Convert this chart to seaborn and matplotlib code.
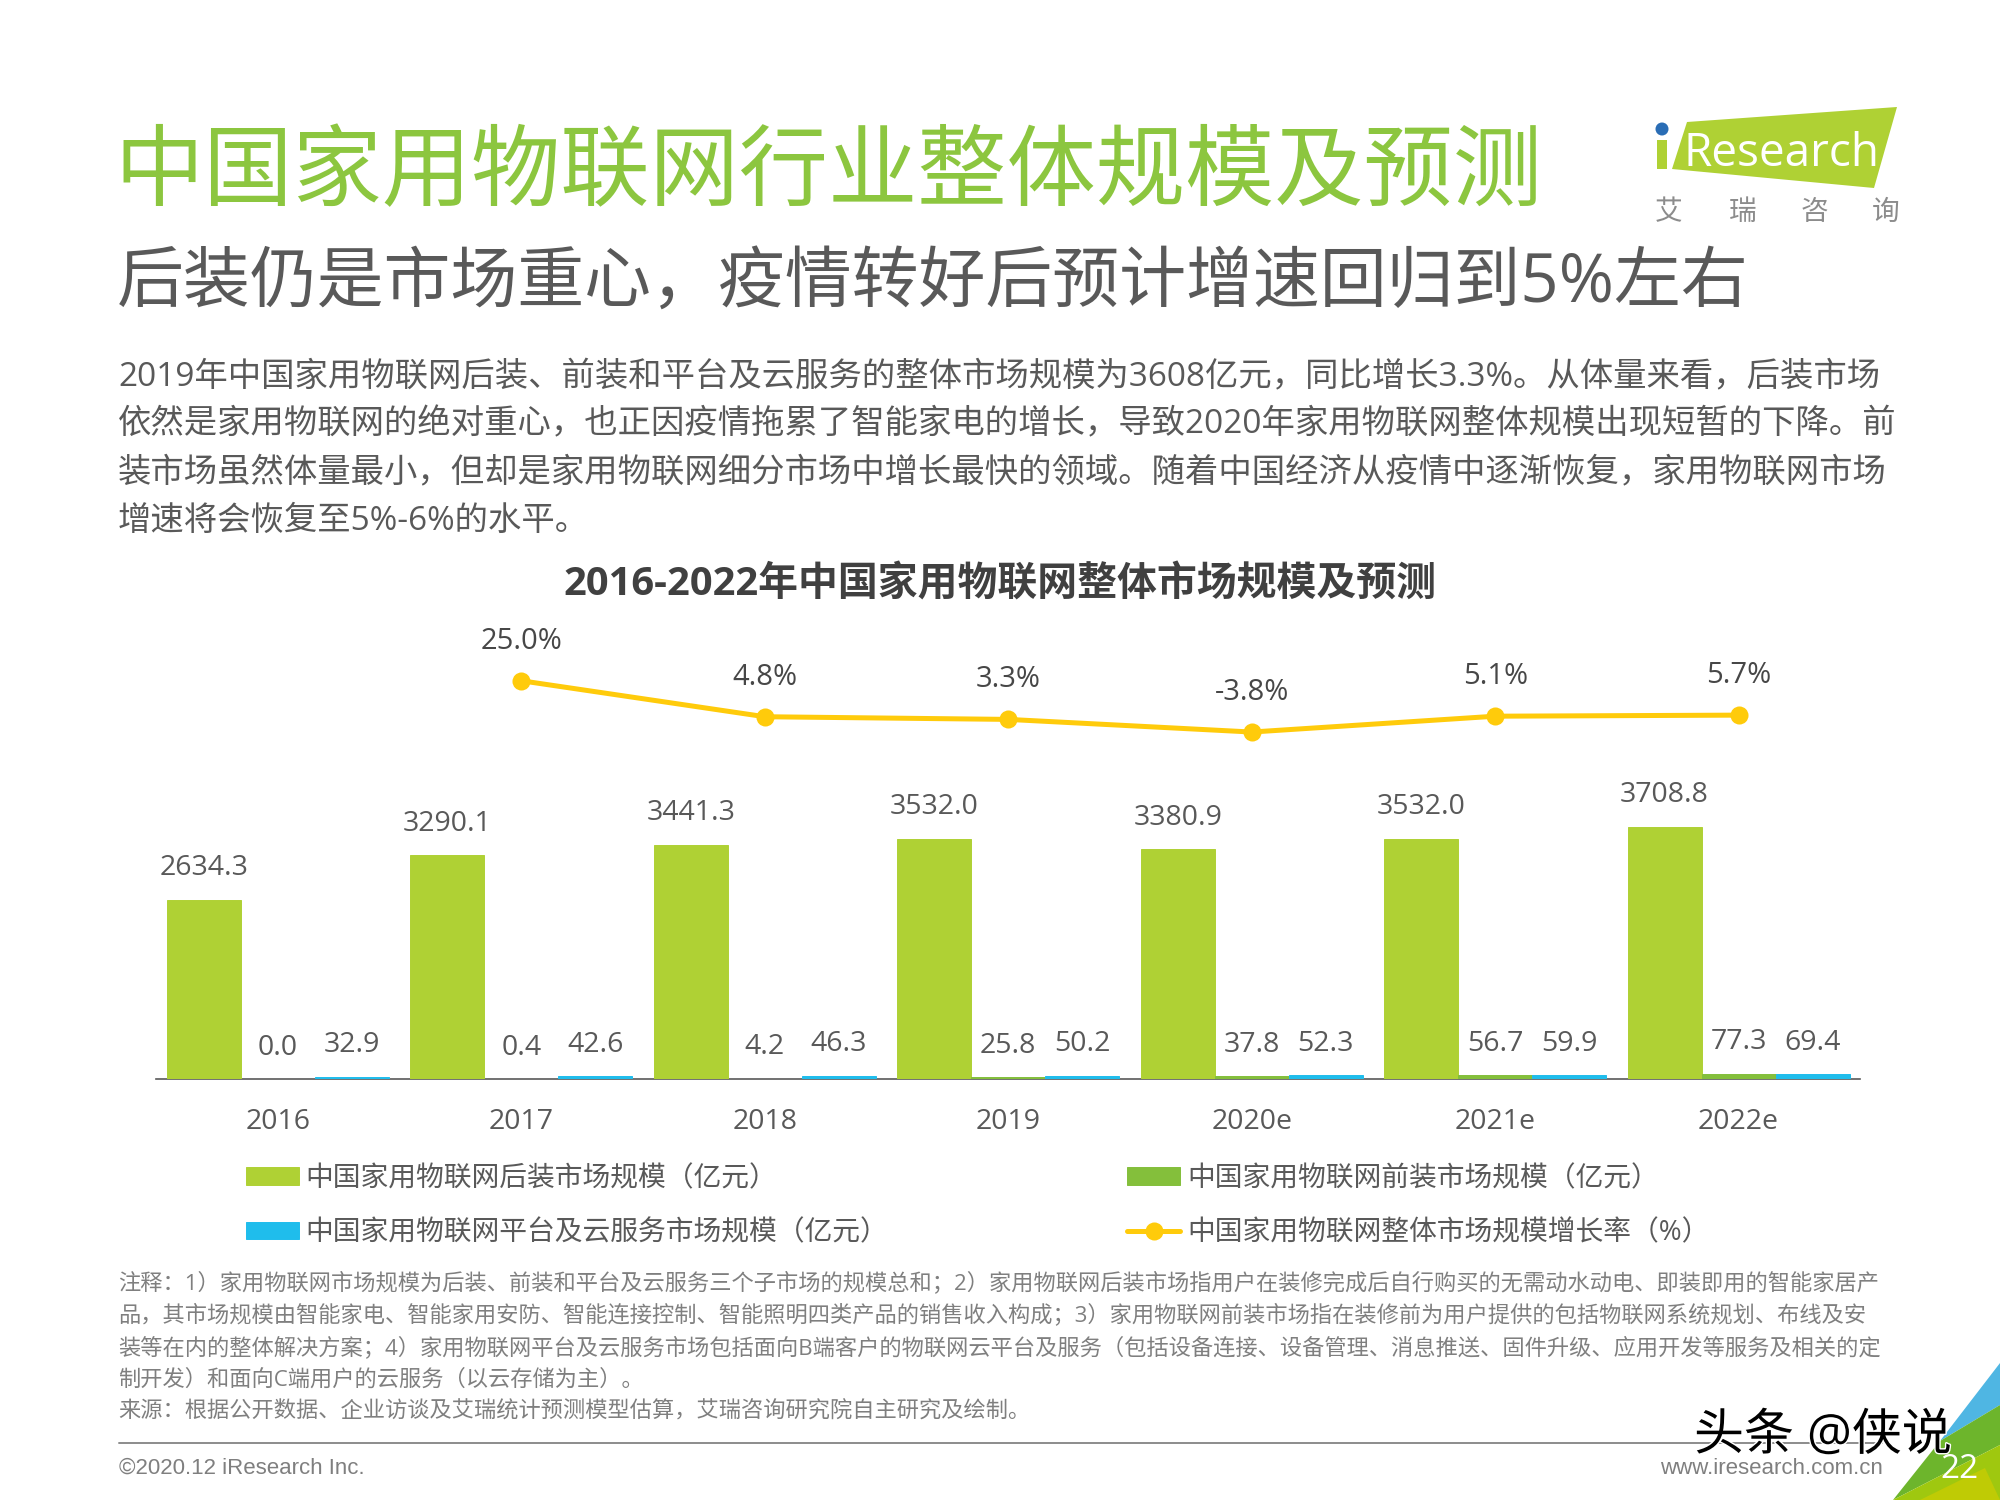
import matplotlib
matplotlib.use("Agg")
import matplotlib.pyplot as plt
import matplotlib.patheffects as pe
from matplotlib.patches import Polygon, Circle, Rectangle
import pandas as pd
import seaborn as sns

# ---- data ----
years = ['2016', '2017', '2018', '2019', '2020e', '2021e', '2022e']
aftermarket = [2634.3, 3290.1, 3441.3, 3532.0, 3380.9, 3532.0, 3708.8]
preinstall = [0.0, 0.4, 4.2, 25.8, 37.8, 56.7, 77.3]
cloud = [32.9, 42.6, 46.3, 50.2, 52.3, 59.9, 69.4]
growth_years = ['2017', '2018', '2019', '2020e', '2021e', '2022e']
growth = [25.0, 4.8, 3.3, -3.8, 5.1, 5.7]

series_names = ['中国家用物联网后装市场规模（亿元）', '中国家用物联网前装市场规模（亿元）', '中国家用物联网平台及云服务市场规模（亿元）']
line_name = '中国家用物联网整体市场规模增长率（%）'

title = '中国家用物联网行业整体规模及预测'
subtitle = '后装仍是市场重心，疫情转好后预计增速回归到5%左右'
body_lines = [
    '2019年中国家用物联网后装、前装和平台及云服务的整体市场规模为3608亿元，同比增长3.3%。从体量来看，后装市场',
    '依然是家用物联网的绝对重心，也正因疫情拖累了智能家电的增长，导致2020年家用物联网整体规模出现短暂的下降。前',
    '装市场虽然体量最小，但却是家用物联网细分市场中增长最快的领域。随着中国经济从疫情中逐渐恢复，家用物联网市场',
    '增速将会恢复至5%-6%的水平。',
]
chart_title = '2016-2022年中国家用物联网整体市场规模及预测'
note_lines = [
    '注释：1）家用物联网市场规模为后装、前装和平台及云服务三个子市场的规模总和；2）家用物联网后装市场指用户在装修完成后自行购买的无需动水动电、即装即用的智能家居产',
    '品，其市场规模由智能家电、智能家用安防、智能连接控制、智能照明四类产品的销售收入构成；3）家用物联网前装市场指在装修前为用户提供的包括物联网系统规划、布线及安',
    '装等在内的整体解决方案；4）家用物联网平台及云服务市场包括面向B端客户的物联网云平台及服务（包括设备连接、设备管理、消息推送、固件升级、应用开发等服务及相关的定',
    '制开发）和面向C端用户的云服务（以云存储为主）。',
    '来源：根据公开数据、企业访谈及艾瑞统计预测模型估算，艾瑞咨询研究院自主研究及绘制。',
]

LIME = '#AFD134'
GREEN = '#84BF3B'
CYAN = '#1FBDEC'
YELLOW = '#FFCB0B'
TEXT = '#595959'
NOTE = '#7F7F7F'

sns.set_theme(style='white')
plt.rcParams['font.family'] = ['Open Sans', 'Noto Sans CJK SC', 'DejaVu Sans']

df = pd.DataFrame({
    'year': years * 3,
    'value': aftermarket + preinstall + cloud,
    'series': [n for n in series_names for _ in years],
})

fig = plt.figure(figsize=(20, 15), dpi=100, facecolor='white')
ax = fig.add_axes([156.3 / 2000, (1500 - 1079) / 1500, 1704 / 2000, 460 / 1500])

# bars
sns.barplot(data=df, x='year', y='value', hue='series', hue_order=series_names,
            palette=[LIME, GREEN, CYAN], width=0.912, gap=0, saturation=1, ax=ax, legend=False)
ax.set_xlim(-0.5, 6.5)
ax.set_ylim(0, 6760)
ax.set_xlabel('')
ax.set_ylabel('')
ax.set_yticks([])
ax.tick_params(axis='x', length=0, pad=21, labelsize=20.5, labelcolor=TEXT)
sns.despine(ax=ax, left=True)
ax.spines['bottom'].set_color(TEXT)
ax.spines['bottom'].set_linewidth(1.2)
ax.spines['bottom'].set_zorder(0.5)
for cont, name in zip(ax.containers, series_names):
    cont.set_label(name)
    ax.bar_label(cont, fmt='%.1f', padding=12.5, fontsize=20.5, color=TEXT)
    for bar in cont:
        bar.set_edgecolor(bar.get_facecolor())
        bar.set_linewidth(0.7)

# growth line on its own scale
ax2 = ax.twinx()
line_x = [years.index(y) for y in growth_years]
sns.lineplot(x=line_x, y=growth, color=YELLOW, linewidth=3.6, marker='o', markersize=13,
             markeredgewidth=0, ax=ax2, label=line_name, legend=False)
ax2.set_ylim(-198.7, 59.7)
ax2.axis('off')
for x, v in zip(line_x, growth):
    ax2.annotate(f'{v:.1f}%', (x, v), xytext=(0, 28.5), textcoords='offset points',
                 ha='center', va='center', fontsize=21, color='#474747')

# legend, two columns
handles = [ax.containers[0], ax.containers[2], ax.containers[1], ax2.get_lines()[0]]
labels = [series_names[0], series_names[2], series_names[1], line_name]
fig.legend(handles, labels, ncol=2, frameon=False, fontsize=20, loc='upper left',
           bbox_to_anchor=(221 / 2000, 1 - 1140 / 1500), handlelength=1.9, handleheight=0.6,
           handletextpad=0.25, labelspacing=0.95, columnspacing=8.6, labelcolor=TEXT)

# page furniture in pixel coordinates
page = fig.add_axes([0, 0, 1, 1], zorder=5)
page.set_xlim(0, 2000)
page.set_ylim(1500, 0)
page.axis('off')


def put(x, y, s, size, color=TEXT, **kw):
    kw.setdefault('va', 'center')
    page.text(x, y, s, fontsize=size, color=color, **kw)


put(114, 176, title, 64.3, '#8CC63F')
put(117, 284, subtitle, 48.2)
for y, line in zip([378, 425, 473, 521], body_lines):
    put(118, y, line, 24)
put(1000, 585, chart_title, 28.7, '#404040', ha='center', fontweight='bold')
for y, line in zip([1283, 1315, 1348, 1380, 1412], note_lines):
    put(118, y, line, 16, NOTE)

# footer
page.plot([119, 1882], [1443, 1443], color='#8C8C8C', lw=1.4)
put(119, 1468, '©2020.12 iResearch Inc.', 16, NOTE, family='Liberation Sans')
put(1883, 1468, 'www.iresearch.com.cn', 16, NOTE, family='Liberation Sans', ha='right')

# corner triangles
page.add_patch(Polygon([(2000, 1363), (1940, 1441), (2000, 1405)], color='#4FB6E3', lw=0))
page.add_patch(Polygon([(1940, 1441), (2000, 1405), (2000, 1445), (1893, 1500)], color='#6DB52C', lw=0))
page.add_patch(Polygon([(1893, 1500), (2000, 1445), (2000, 1500)], color='#9FC80F', lw=0))
page.add_patch(Polygon([(1920, 1500), (1985, 1468), (2000, 1500)], color='#BFCB05', lw=0))
put(1960, 1469, '22', 24, 'white', ha='center')

# logo
page.add_patch(Polygon([(1687, 122), (1897, 107), (1874, 188), (1672, 169)], color=LIME, lw=0))
page.add_patch(Rectangle((1657, 140), 10, 29, color=LIME, lw=0))
page.add_patch(Circle((1662, 129), 6.5, color='#2A6DB5', lw=0))
put(1684, 154, 'Research', 33, 'white', family='Open Sans')
for x, ch in zip([1669, 1743, 1814, 1886], '艾瑞咨询'):
    put(x, 213, ch, 20, '#8C8C8C', ha='center')

# watermark
wm = page.text(1694, 1437, '头条 @侠说', fontsize=36, color='black', va='center')
wm.set_path_effects([pe.withStroke(linewidth=2, foreground='white')])

fig.savefig('out.png', dpi=100)
